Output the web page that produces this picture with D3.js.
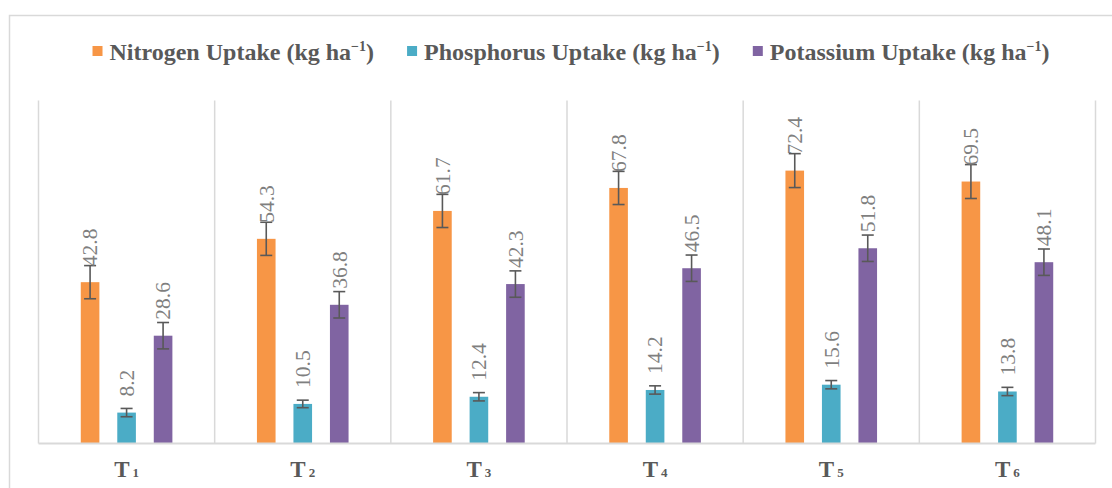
<!DOCTYPE html>
<html>
<head>
<meta charset="utf-8">
<script src="https://cdn.jsdelivr.net/npm/d3@7/dist/d3.min.js"></script>
<style>
  html, body { margin: 0; padding: 0; background: #fff; }
  svg { display: block; }
  .serif { font-family: "Liberation Serif", "Times New Roman", "DejaVu Serif", serif; }
</style>
</head>
<body>
<svg id="chart" width="1112" height="488"></svg>
<script>
// Treatments (T1..T6) and nutrient uptake per treatment (kg ha-1)
const categories = ["1", "2", "3", "4", "5", "6"];
const seriesNames = ["Nitrogen Uptake", "Phosphorus Uptake", "Potassium Uptake"];
const seriesColors = ["#F79646", "#4BACC6", "#8064A2"];
const nitrogen   = [42.8, 54.3, 61.7, 67.8, 72.4, 69.5];
const phosphorus = [8.2, 10.5, 12.4, 14.2, 15.6, 13.8];
const potassium  = [28.6, 36.8, 42.3, 46.5, 51.8, 48.1];
const nitrogenErr   = [4.4, 4.4, 4.4, 4.4, 4.5, 4.5];
const phosphorusErr = [1.1, 1.0, 1.1, 1.1, 1.1, 1.1];
const potassiumErr  = [3.5, 3.5, 3.5, 3.5, 3.5, 3.5];

const values = [nitrogen, phosphorus, potassium];
const errors = [nitrogenErr, phosphorusErr, potassiumErr];

const svg = d3.select("#chart");

const plot = { left: 38.5, right: 1095.5, top: 100.5, bottom: 443.5 };

// outer chart frame
svg.append("rect")
  .attr("x", 9.5).attr("y", 15.5)
  .attr("width", 1140).attr("height", 500)
  .attr("fill", "none").attr("stroke", "#d9d9d9").attr("stroke-width", 1.5);

const x = d3.scaleBand().domain(categories).range([plot.left, plot.right]).padding(0);
const xSub = d3.scaleBand().domain(d3.range(seriesNames.length))
  .range([x.bandwidth() / 2 - 54.75, x.bandwidth() / 2 + 54.75])
  .paddingInner(0.49).paddingOuter(0.245);
const y = d3.scaleLinear().domain([0, 91]).range([plot.bottom, plot.top]);

// category separators
const bounds = categories.map(c => x(c)).concat([plot.right]);
svg.append("g").selectAll("line").data(bounds).join("line")
  .attr("x1", d => d).attr("x2", d => d)
  .attr("y1", plot.top).attr("y2", plot.bottom)
  .attr("stroke", "#d9d9d9").attr("stroke-width", 1.5);

// bars
const rows = [];
categories.forEach((c, i) => {
  values.forEach((arr, s) => {
    rows.push({ cat: c, s, v: arr[i], e: errors[s][i] });
  });
});

const g = svg.append("g");
g.selectAll("rect.bar").data(rows).join("rect")
  .attr("class", "bar")
  .attr("x", d => x(d.cat) + xSub(d.s))
  .attr("y", d => y(d.v))
  .attr("width", xSub.bandwidth())
  .attr("height", d => y(0) - y(d.v))
  .attr("fill", d => seriesColors[d.s]);

// baseline
svg.append("line")
  .attr("x1", plot.left).attr("x2", plot.right)
  .attr("y1", plot.bottom).attr("y2", plot.bottom)
  .attr("stroke", "#d9d9d9").attr("stroke-width", 2);

// error bars
const cx = d => x(d.cat) + xSub(d.s) + xSub.bandwidth() / 2;
const eb = g.selectAll("g.err").data(rows).join("g").attr("class", "err")
  .attr("stroke", "#595959").attr("stroke-width", 1.6);
eb.append("line").attr("x1", cx).attr("x2", cx)
  .attr("y1", d => y(d.v + d.e)).attr("y2", d => y(d.v - d.e));
eb.append("line").attr("x1", d => cx(d) - 6).attr("x2", d => cx(d) + 6)
  .attr("y1", d => y(d.v + d.e)).attr("y2", d => y(d.v + d.e));
eb.append("line").attr("x1", d => cx(d) - 6).attr("x2", d => cx(d) + 6)
  .attr("y1", d => y(d.v - d.e)).attr("y2", d => y(d.v - d.e));

// value labels, rotated, a fixed distance above each bar
g.selectAll("text.val").data(rows).join("text")
  .attr("class", "val serif")
  .attr("transform", d => `translate(${cx(d)},${y(d.v) - 16}) rotate(-90)`)
  .attr("dy", "0.34em")
  .attr("font-size", 21.5)
  .attr("fill", "#7f7f7f")
  .text(d => d.v.toFixed(1));

// category labels
const catLabels = svg.append("g").selectAll("text").data(categories).join("text")
  .attr("class", "serif")
  .attr("x", d => x(d) + x.bandwidth() / 2)
  .attr("y", 477)
  .attr("text-anchor", "middle")
  .attr("font-weight", "bold")
  .attr("fill", "#595959");
catLabels.append("tspan").attr("font-size", 23).text("T");
catLabels.append("tspan").attr("font-size", 13).attr("dx", 3).text(d => d);

// legend
const legend = svg.append("g");
const items = legend.selectAll("g").data(seriesNames).join("g");
items.append("rect")
  .attr("width", 10).attr("height", 10)
  .attr("y", 46)
  .attr("fill", (d, i) => seriesColors[i]);
const lt = items.append("text")
  .attr("class", "serif")
  .attr("x", 17).attr("y", 59.5)
  .attr("font-weight", "bold")
  .attr("font-size", 24).attr("fill", "#595959");
lt.append("tspan").text(d => d + " (kg ha");
lt.append("tspan").attr("font-size", 14).attr("dy", -9).text("\u22121");
lt.append("tspan").attr("dy", 9).text(")");

const gap = 33;
let widths = [];
items.each(function () { widths.push(this.getBBox().width); });
const total = d3.sum(widths) + gap * (widths.length - 1);
let pos = 571 - total / 2;
items.each(function (d, i) {
  d3.select(this).attr("transform", `translate(${pos},0)`);
  pos += widths[i] + gap;
});
</script>
</body>
</html>
